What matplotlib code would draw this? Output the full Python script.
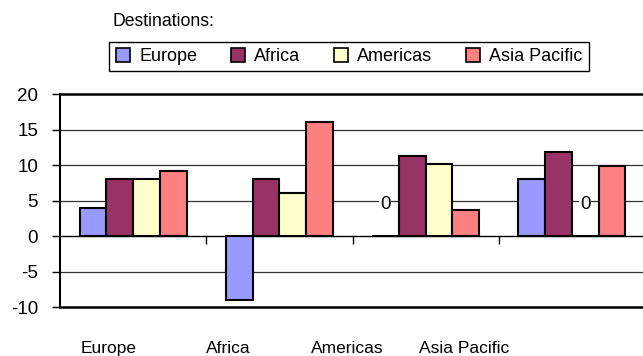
import numpy as np
import matplotlib
matplotlib.use('Agg')
import matplotlib.pyplot as plt
from matplotlib.patches import Patch

# Change by destination for each origin region
regions = ['Europe', 'Africa', 'Americas', 'Asia Pacific']
europe = [4, -9, 0, 8]
africa = [8, 8, 11.2, 11.8]
americas = [8, 6, 10.1, 0]
asia_pacific = [9.1, 16, 3.7, 9.8]

series = [europe, africa, americas, asia_pacific]
colors = ['#9999FF', '#993366', '#FFFFCC', '#FF8080']

plt.rcParams['font.family'] = ['Liberation Sans', 'DejaVu Sans']
plt.rcParams['axes.unicode_minus'] = False

fig = plt.figure(figsize=(6.43, 3.56), dpi=100)
ax = fig.add_axes([60 / 643, 1 - 307 / 356, 585 / 643, 213 / 356])

x = np.arange(len(regions))
width = 0.183
for i, (vals, col) in enumerate(zip(series, colors)):
    pos = x + (i - 1.5) * width
    ax.bar(pos, vals, width, color=col, edgecolor='black', linewidth=1.5, zorder=3)
    # zero values get a bare data label
    for p, v in zip(pos, vals):
        if v == 0:
            ax.text(p, 4.4, '0', ha='center', va='center', fontsize=13.5, zorder=4,
                    bbox=dict(facecolor='white', edgecolor='none', pad=0.5))

ax.set_xlim(-0.5, 3.5)
ax.set_ylim(-10, 20)
ax.set_yticks(np.arange(-10, 21, 5))
for y in [-5, 5, 10, 15]:
    ax.axhline(y, color='#333333', linewidth=0.9, zorder=1)
ax.axhline(-10, color='black', linewidth=1.8, clip_on=False, zorder=2)

ax.spines['right'].set_visible(False)
ax.spines['top'].set_linewidth(1.8)
ax.spines['left'].set_linewidth(1.5)
ax.spines['bottom'].set_position(('data', 0))
ax.spines['bottom'].set_linewidth(1.0)
ax.spines['bottom'].set_zorder(2)

ax.set_xticks([0.5, 1.5, 2.5])
ax.set_xticklabels([])
ax.tick_params(axis='x', direction='out', length=5.5, width=1)
ax.tick_params(axis='y', direction='out', length=5.8, width=1, pad=10, labelsize=13.5)

# category names along the bottom
label_x = [109, 228, 347, 464]
for lx, name in zip(label_x, regions):
    fig.text(lx / 643, 1 - 353 / 356, name, ha='center', va='baseline', fontsize=12.5)

fig.text(112 / 643, 1 - 26 / 356, 'Destinations:', ha='left', va='baseline', fontsize=12.7)

handles = [Patch(facecolor=c, edgecolor='black', linewidth=1.2) for c in colors]
leg = fig.legend(handles, regions, ncol=4, loc='center',
                 bbox_to_anchor=(349 / 643, 1 - 56.5 / 356), fontsize=13,
                 frameon=True, fancybox=False, edgecolor='black', framealpha=1,
                 handlelength=0.8, handleheight=0.8, handletextpad=0.5,
                 columnspacing=1.85, borderpad=0.35, borderaxespad=0)
leg.get_frame().set_linewidth(1.0)

fig.savefig('out.png', dpi=100)
